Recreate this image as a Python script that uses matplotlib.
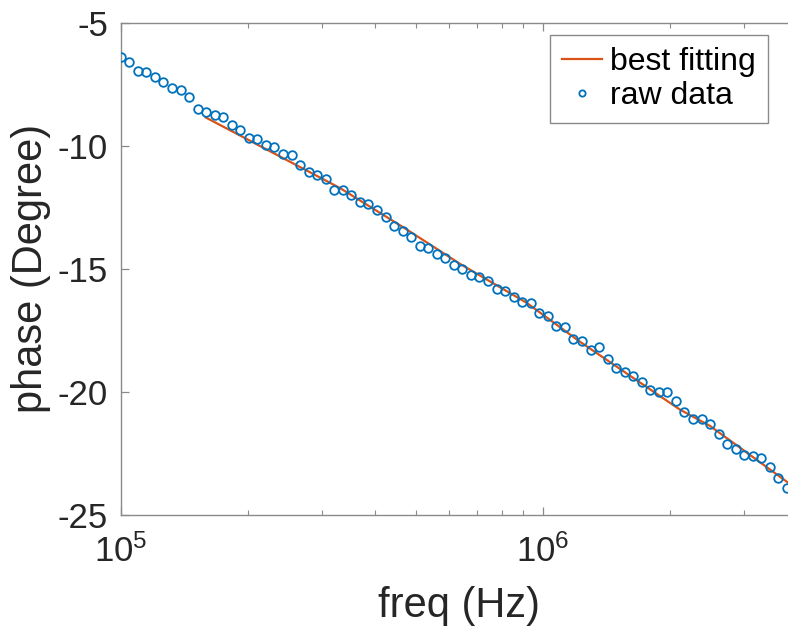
import numpy as np
import matplotlib
matplotlib.use("Agg")
import matplotlib.pyplot as plt

# phase vs frequency, raw samples (log-spaced, ~50 per decade)
step = 0.02024
raw_phase = [
    -6.38, -6.61, -6.96, -7.01, -7.19, -7.40, -7.64, -7.74, -8.00, -8.51,
    -8.63, -8.75, -8.84, -9.16, -9.34, -9.68, -9.74, -9.97, -10.05, -10.34,
    -10.38, -10.77, -11.07, -11.20, -11.34, -11.78, -11.78, -12.01, -12.28, -12.35,
    -12.60, -12.91, -13.24, -13.48, -13.70, -14.08, -14.15, -14.39, -14.55, -14.83,
    -14.99, -15.23, -15.34, -15.50, -15.81, -15.90, -16.14, -16.35, -16.38, -16.81,
    -16.90, -17.33, -17.37, -17.84, -17.94, -18.30, -18.16, -18.68, -19.03, -19.19,
    -19.36, -19.60, -19.92, -19.99, -20.00, -20.38, -20.82, -21.08, -21.11, -21.31,
    -21.69, -22.10, -22.30, -22.56, -22.60, -22.69, -23.05, -23.48, -23.92,
]
raw_freq = 10 ** (5 + step * np.arange(len(raw_phase)))

# fitted curve, knots
fit_freq = [1.59e5, 3.31e5, 4.76e5, 6.37e5, 9.16e5, 1.22e6, 2.11e6, 2.49e6, 3.81e6]
fit_phase = [-8.85, -11.72, -13.40, -14.80, -16.38, -17.94, -20.71, -21.38, -23.68]

plt.rcParams['font.family'] = ['Liberation Sans', 'DejaVu Sans']
plt.rcParams['mathtext.fontset'] = 'custom'
plt.rcParams['mathtext.rm'] = 'Liberation Sans'
plt.rcParams['mathtext.default'] = 'regular'
plt.rcParams['axes.unicode_minus'] = False

txt = '#262626'
edge = '#8a8a8a'

fig = plt.figure(figsize=(7.88, 6.34), dpi=100)
ax = fig.add_axes([0.1532, 0.1877, 0.858, 0.7765])

ax.plot(fit_freq, fit_phase, color='#D95319', lw=1.6, label='best fitting', zorder=2)
ax.plot(raw_freq, raw_phase, 'o', mfc='none', mec='#0072BD', mew=1.3, ms=6.2,
        label='raw data', zorder=3)

ax.set_xscale('log')
ax.set_xlim(1e5, 4e6)
ax.set_ylim(-25, -5)
ax.set_yticks([-25, -20, -15, -10, -5])

for s in ax.spines.values():
    s.set_color(edge)
    s.set_linewidth(1.0)

ax.tick_params(which='both', direction='in', top=True, right=True, colors=edge,
               labelcolor=txt, labelsize=25)
ax.tick_params(which='major', length=6, width=0.9)
ax.tick_params(which='minor', length=3.5, width=0.8)
ax.tick_params(axis='y', pad=9)
ax.tick_params(axis='x', pad=14)

ax.set_xlabel('freq (Hz)', fontsize=30, color=txt, labelpad=12)
ax.set_ylabel('phase (Degree)', fontsize=30, color=txt, labelpad=5)

leg = ax.legend(loc='upper right', bbox_to_anchor=(0.9746, 0.9448),
                bbox_transform=fig.transFigure, borderaxespad=0, fontsize=23,
                numpoints=1, handlelength=1.25, handletextpad=0.25, borderpad=0.38,
                labelspacing=0.12, fancybox=False, framealpha=1)
leg.get_frame().set_edgecolor(edge)
leg.get_frame().set_linewidth(1.0)
for t in leg.get_texts():
    t.set_color('black')
for h in leg.legend_handles:
    if h.get_marker() == 'o':
        h.set_markersize(4.5)

fig.savefig('out.png', dpi=100)
